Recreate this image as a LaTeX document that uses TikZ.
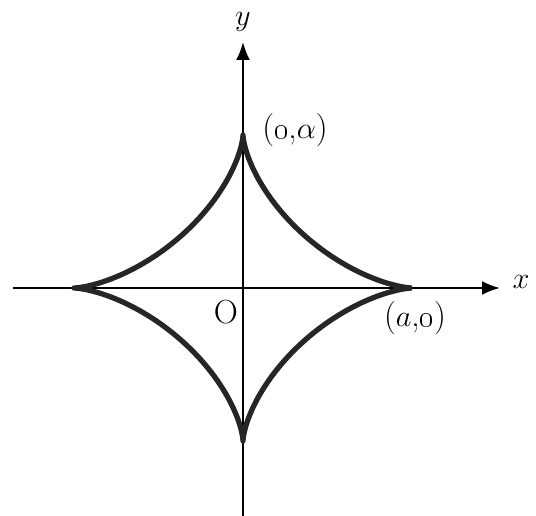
\documentclass[tikz,border=0pt]{standalone}
\usepackage{tikz}
\usetikzlibrary{arrows.meta}

\begin{document}
\begin{tikzpicture}[
  x=0.2mm, y=0.2mm,
  axis/.style={-{Latex[length=3.6mm,width=2.8mm]}, line width=1.3pt},
  curve/.style={line width=3pt, line join=round, draw=black!85},
  lbl/.style={font=\fontsize{19}{22}\selectfont, inner sep=1pt},
]
\useasboundingbox (-243,-228) rectangle (293,288);
% axes
\coordinate (xstart) at (-230,0);
\coordinate (xend) at (257,0);
\coordinate (ystart) at (0,-228);
\coordinate (yend) at (0,246);
\draw[axis] (xstart) -- (xend);
\draw[axis] (ystart) -- (yend);
% astroid
\draw[curve] plot[domain=0:360, samples=361, variable=\t]
  ({169*cos(\t)*cos(\t)*cos(\t)}, {153*sin(\t)*sin(\t)*sin(\t)});
% labels
\node[lbl] (xlab) at (278,6) {$x$};
\node[lbl] (ylab) at (0,266) {$y$};
\node[lbl] (top) at (52,158) {(\oldstylenums{0},$\alpha$)};
\node[lbl] (right) at (172,-30) {($a$,\oldstylenums{0})};
\node[lbl] (orig) at (-17,-24) {O};
\end{tikzpicture}
\end{document}
